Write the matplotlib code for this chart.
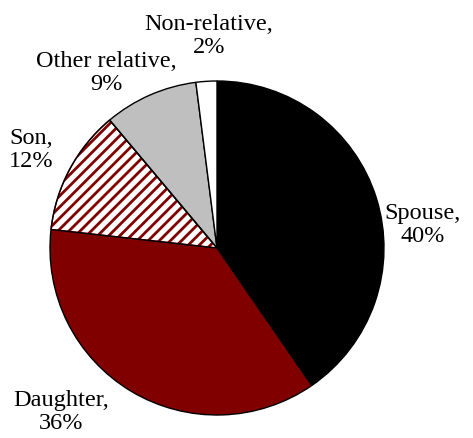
import matplotlib
matplotlib.use("Agg")
import matplotlib.pyplot as plt
from matplotlib.patches import Wedge

categories = ["Spouse", "Daughter", "Son", "Other relative", "Non-relative"]
values = [40, 36, 12, 9, 2]
label_text = ["Spouse,\n40%", "Daughter,\n36%", "Son,\n12%", "Other relative,\n9%", "Non-relative,\n2%"]

W, H = 473, 439
fig = plt.figure(figsize=(W / 100, H / 100), dpi=100)
ax = fig.add_axes([0, 0, 1, 1])

cx, cy, r = 217, H - 249, 167
plt.rcParams['hatch.linewidth'] = 2.0
wedges, _ = ax.pie(values, startangle=90, counterclock=False, center=(cx, cy), radius=r,
                   colors=["#000000", "#800000", "#ffffff", "#bfbfbf", "#ffffff"],
                   wedgeprops=dict(edgecolor="black", linewidth=1.0))
son = wedges[2]
son.set_edgecolor('#800000')
son.set_hatch('///')
ax.add_patch(Wedge(son.center, son.r, son.theta1, son.theta2, fill=False,
                   edgecolor='black', linewidth=1.0, zorder=son.get_zorder() + 0.1))
ax.set_xlim(0, W)
ax.set_ylim(0, H)
ax.set_aspect('equal')
ax.axis('off')

label_pos = [(423, 225), (61, 412), (31, 150), (106, 73), (209, 36)]
for t, (x, y) in zip(label_text, label_pos):
    ax.text(x, H - y, t, ha='center', va='center', fontsize=17.5,
            family='Liberation Serif', linespacing=1.1)

fig.savefig("out.png", dpi=100)
